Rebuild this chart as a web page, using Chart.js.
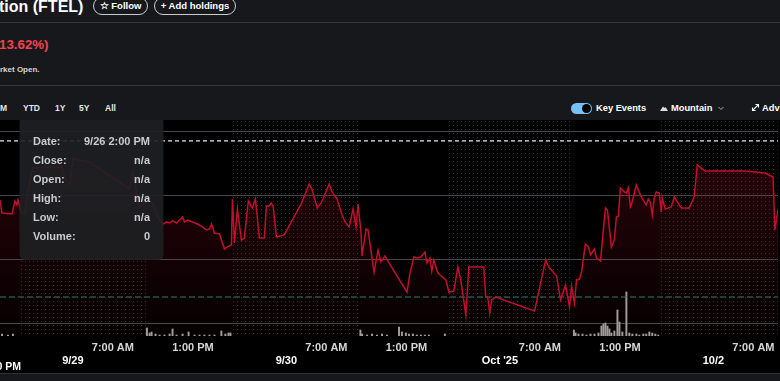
<!DOCTYPE html>
<html><head><meta charset="utf-8">
<script src="https://cdn.jsdelivr.net/npm/chart.js@4.4.1/dist/chart.umd.min.js"></script>
<style>
html,body{margin:0;padding:0;background:#16181c;width:780px;height:381px;overflow:hidden;font-family:'Liberation Sans',Arial,sans-serif;}
.abs{position:absolute;white-space:nowrap;}
.pill{top:-3px;height:18px;border:1px solid #c9ccd0;border-radius:9px;color:#fff;font-size:9.5px;font-weight:bold;line-height:16px;box-sizing:border-box;text-align:center;}
.rng{top:103px;font-size:8.5px;font-weight:bold;color:#e6e6e6;line-height:10px;}
.hr{left:0;width:780px;height:1px;background:#34373c;}
#wrap{position:absolute;left:0;top:120px;width:780px;height:253px;background:#000;}
</style></head>
<body>
<div class="abs" style="left:-1px;top:-1px;font-size:16px;font-weight:bold;color:#fff;line-height:16px;">tion (FTEL)</div>
<div class="abs pill" style="left:93px;width:55px;">☆ Follow</div>
<div class="abs pill" style="left:154px;width:82px;">+ Add holdings</div>
<div class="abs hr" style="top:22px;"></div>
<div class="abs" style="left:-1px;top:38px;font-size:13.3px;font-weight:bold;color:#f5424d;line-height:14px;">13.62%)</div>
<div class="abs" style="left:0px;top:65px;font-size:8px;font-weight:bold;color:#d6d6d6;line-height:9px;">rket Open.</div>
<div class="abs hr" style="top:85px;"></div>
<div class="abs rng" style="left:0px;">M</div>
<div class="abs rng" style="left:23px;">YTD</div>
<div class="abs rng" style="left:55px;">1Y</div>
<div class="abs rng" style="left:79px;">5Y</div>
<div class="abs rng" style="left:105px;">All</div>
<div class="abs" style="left:571px;top:103px;width:21px;height:11px;border-radius:6px;background:#78bff5"></div>
<div class="abs" style="left:582px;top:104px;width:9px;height:9px;border-radius:50%;background:#000"></div>
<div class="abs" style="left:596px;top:103px;font-size:9.3px;font-weight:bold;color:#fff;line-height:10px;">Key Events</div>
<svg class="abs" style="left:660px;top:105px" width="8" height="7"><polygon points="0,6 3,1.5 4.5,3 5.5,2 8,6" fill="#ddd"/></svg>
<div class="abs" style="left:671px;top:103px;font-size:9.3px;font-weight:bold;color:#fff;line-height:10px;">Mountain</div>
<svg class="abs" style="left:718px;top:106px" width="6" height="5"><polyline points="0.5,1 3,3.5 5.5,1" fill="none" stroke="#aaa" stroke-width="1"/></svg>
<svg class="abs" style="left:751px;top:103px" width="9" height="9"><path d="M1.5,7.5 L7.5,1.5 M4.5,1.5 L7.5,1.5 L7.5,4.5 M1.5,4.5 L1.5,7.5 L4.5,7.5" fill="none" stroke="#fff" stroke-width="1.1"/></svg>
<div class="abs" style="left:762px;top:103px;font-size:9.3px;font-weight:bold;color:#fff;line-height:10px;">Adv</div>
<div id="wrap"><canvas id="c" width="780" height="253"></canvas></div>
<div class="abs hr" style="top:373px;background:#2e3135;"></div>
<script>
// ---- data (x = session hours: day index*16 + (hour-4); 9/26 = day 0) ----
const viewStart = 10.54, viewEnd = 68.84;
const priceTimes = [10.54,10.69,11.44,11.66,11.81,11.89,12.11,12.41,12.64,13.01,13.31,14.28,15.18,15.40,15.77,16.00,17.27,20.26,20.48,20.78,21.01,21.53,21.98,22.28,22.73,23.02,23.25,23.47,23.77,24.00,24.22,24.37,24.59,24.97,25.34,25.49,25.71,26.01,26.24,26.39,26.61,26.99,27.36,27.58,27.88,27.96,28.11,28.33,28.63,28.85,29.15,29.45,29.68,29.98,30.35,30.50,30.72,30.87,31.02,31.25,31.84,32.37,33.11,33.71,33.94,34.31,34.61,35.21,35.43,35.80,36.18,36.40,36.70,37.00,37.22,37.37,37.60,37.67,37.97,38.12,38.57,38.87,39.09,39.39,39.84,41.04,41.26,41.56,41.78,42.08,42.38,42.53,42.76,42.90,43.05,43.35,43.95,44.18,44.55,44.85,45.07,45.45,45.67,46.79,46.94,47.09,47.24,47.39,47.69,50.60,51.43,51.65,52.25,52.55,52.92,53.22,53.37,53.59,53.74,53.97,54.12,54.41,54.64,54.79,55.09,55.24,55.54,55.91,56.06,56.36,56.58,56.73,56.88,57.03,57.33,57.48,57.63,57.78,57.85,58.23,58.53,58.75,58.97,59.12,59.27,59.42,59.57,59.72,59.95,60.09,60.17,60.39,60.84,61.07,61.59,62.19,62.56,62.79,63.38,64.35,66.45,67.87,68.47,68.61,68.84];
const priceValues = [4.965,4.863,4.856,4.958,4.926,4.965,4.871,4.863,5.044,5.224,5.217,5.224,5.224,5.138,5.083,5.287,5.264,5.052,5.201,5.020,4.903,4.965,4.942,4.848,4.773,4.793,4.785,4.801,4.785,4.808,4.832,4.793,4.808,4.793,4.777,4.769,4.754,4.730,4.738,4.777,4.706,4.699,4.581,4.597,4.612,4.973,4.628,4.895,4.652,4.667,4.958,4.903,4.973,4.667,4.667,4.918,4.918,4.942,4.911,4.675,4.691,4.793,4.934,5.091,5.044,4.903,4.942,5.091,5.028,4.973,4.848,4.793,4.754,4.895,4.754,4.934,4.706,4.526,4.738,4.730,4.400,4.573,4.479,4.526,4.447,4.243,4.392,4.518,4.510,4.518,4.557,4.471,4.510,4.408,4.495,4.392,4.338,4.243,4.251,4.440,4.338,4.063,4.440,4.440,4.204,4.204,4.078,4.181,4.204,4.094,4.495,4.440,4.369,4.181,4.298,4.126,4.290,4.157,4.338,4.345,4.400,4.620,4.597,4.534,4.581,4.510,4.487,4.903,4.887,4.597,4.652,4.832,4.840,5.060,5.028,5.020,5.060,4.911,4.926,5.083,5.005,4.965,4.926,4.973,4.950,4.848,4.981,5.028,5.020,4.871,4.981,4.895,4.911,4.989,4.903,4.903,4.989,5.240,5.193,5.193,5.193,5.177,5.146,4.730,4.887];
const volTimes = [10.69,11.14,11.51,21.55,21.75,21.90,22.20,22.50,22.87,23.25,23.47,23.77,24.22,24.67,25.12,25.49,25.86,26.24,26.61,27.13,27.43,27.66,27.81,37.55,37.67,38.05,38.42,38.79,39.17,39.54,40.44,40.66,40.96,41.19,41.48,41.78,42.08,42.38,42.68,43.88,53.55,53.67,53.89,54.19,54.49,54.79,55.09,55.39,55.61,55.76,55.91,56.06,56.21,56.36,56.58,56.81,56.96,57.18,57.48,57.70,57.93,58.23,58.45,58.75,58.97,59.20,59.42,59.65,59.87];
const volValues = [5,2.5,5,20,7.5,10,5,2.5,2.5,5,17.5,2.5,5,10,2.5,2.5,2.5,2.5,2.5,12.5,5,7.5,7.5,15,5,2.5,5,2.5,5,2.5,22.5,10,7.5,5,5,2.5,2.5,2.5,2.5,5,15,7.5,5,5,2.5,5,5,7.5,25,30,32.5,25,17.5,7.5,12.5,65,35,10,110,7.5,5,5,2.5,5,5,10,7.5,5,2.5];
const gridLevels = [4.0, 4.5, 5.0, 5.5];
const keyLevel = 5.429;
const prevClose = 4.204;
const dateTickTimes = [16, 32, 48, 64];
const dateLabels = ['9/29', '9/30', "Oct '25", '10/2'];
const timeTickTimes = [19, 25, 35, 41, 51, 57, 67];
const timeLabels = ['7:00 AM', '1:00 PM', '7:00 AM', '1:00 PM', '7:00 AM', '1:00 PM', '7:00 AM'];
const extStarts = [12, 28, 44, 60];
const extEnds = [21.5, 37.5, 53.5, 69.5];
const tipLabels = ['Date:', 'Close:', 'Open:', 'High:', 'Low:', 'Volume:'];
const tipValues = ['9/26 2:00 PM', 'n/a', 'n/a', 'n/a', 'n/a', '0'];
const crossLabel = '2:00 PM';

const FONT = "'Liberation Sans', Arial, sans-serif";
const pricePts = priceTimes.map((t, i) => ({x: t, y: priceValues[i]}));
const volPts = volTimes.map((t, i) => ({x: t, y: volValues[i]}));

const dotCanvas = document.createElement('canvas');
dotCanvas.width = 4; dotCanvas.height = 4;
const dctx = dotCanvas.getContext('2d');
dctx.fillStyle = 'rgba(255,255,255,0.19)';
dctx.fillRect(1, 1, 1, 1);

const shadePlugin = {
  id: 'shade',
  beforeDatasetsDraw(chart) {
    const {ctx, chartArea: a, scales: {x}} = chart;
    const pat = ctx.createPattern(dotCanvas, 'repeat');
    ctx.save();
    ctx.fillStyle = pat;
    extStarts.forEach((s, i) => {
      const x1 = Math.max(a.left, x.getPixelForValue(s));
      const x2 = Math.min(a.right, x.getPixelForValue(extEnds[i]));
      if (x2 > x1) ctx.fillRect(x1, a.top, x2 - x1, a.bottom - a.top);
    });
    ctx.restore();
  }
};

function roundRect(ctx, x, y, w, h, r) {
  ctx.beginPath();
  ctx.moveTo(x + r, y);
  ctx.lineTo(x + w - r, y); ctx.quadraticCurveTo(x + w, y, x + w, y + r);
  ctx.lineTo(x + w, y + h - r); ctx.quadraticCurveTo(x + w, y + h, x + w - r, y + h);
  ctx.lineTo(x + r, y + h); ctx.quadraticCurveTo(x, y + h, x, y + h - r);
  ctx.lineTo(x, y + r); ctx.quadraticCurveTo(x, y, x + r, y);
  ctx.closePath();
}

const tipPlugin = {
  id: 'tip',
  afterDraw(chart) {
    const ctx = chart.ctx;
    ctx.save();
    roundRect(ctx, 19.5, -3, 144, 143, 6);
    ctx.fillStyle = 'rgba(30,32,36,0.9)';
    ctx.fill();
    ctx.font = 'bold 11px ' + FONT;
    ctx.textBaseline = 'middle';
    ctx.fillStyle = '#c9cbce';
    tipLabels.forEach((l, i) => {
      const y = 22.3 + i * 19;
      ctx.textAlign = 'left';
      ctx.fillText(l, 33, y);
      ctx.textAlign = 'right';
      ctx.fillText(tipValues[i], 150, y);
    });
    ctx.font = 'bold 10.5px ' + FONT;
    ctx.fillStyle = '#ffffff';
    ctx.textAlign = 'right';
    ctx.fillText(crossLabel, 21, 247);
    ctx.restore();
  }
};

const ctx = document.getElementById('c').getContext('2d');
new Chart(ctx, {
  type: 'line',
  data: {
    datasets: [
      {
        label: 'Price', data: pricePts, order: 1,
        borderColor: '#c20f2c', borderWidth: 1.5, pointRadius: 0, tension: 0,
        fill: 'start',
        backgroundColor: (c) => {
          const a = c.chart.chartArea;
          if (!a) return 'rgba(200,16,46,0.12)';
          const g = c.chart.ctx.createLinearGradient(0, a.top, 0, a.bottom);
          g.addColorStop(0, 'rgba(200,16,46,0.24)');
          g.addColorStop(1, 'rgba(200,16,46,0.02)');
          return g;
        }
      },
      {
        label: 'Key level', data: [{x: viewStart, y: keyLevel}, {x: viewEnd, y: keyLevel}], order: 2,
        borderColor: '#e8e8e8', borderWidth: 1.3, borderDash: [4, 3], pointRadius: 0, fill: false
      },
      {
        label: 'Prev close', data: [{x: viewStart, y: prevClose}, {x: viewEnd, y: prevClose}], order: 2,
        borderColor: '#1f8570', borderWidth: 1, borderDash: [6, 3], pointRadius: 0, fill: false
      },
      {
        type: 'bar', label: 'Volume', data: volPts, yAxisID: 'y2', order: 3,
        backgroundColor: '#a0a0a0', barThickness: 1.3, grouped: false
      }
    ]
  },
  options: {
    responsive: false, devicePixelRatio: 1, animation: false,
    layout: {padding: {left: 0, right: 0, top: 0, bottom: 0}},
    plugins: {legend: {display: false}, tooltip: {enabled: false}},
    scales: {
      x: {
        type: 'linear', min: viewStart, max: viewEnd, offset: false,
        grid: {display: false, drawTicks: false, offset: false}, border: {display: false},
        afterBuildTicks: (s) => { s.ticks = dateTickTimes.concat(timeTickTimes).sort((a, b) => a - b).map(v => ({value: v})); },
        ticks: {
          autoSkip: false, maxRotation: 0, minRotation: 0, padding: 5.5,
          font: {family: FONT, size: 11, weight: 'bold', lineHeight: '13px'},
          color: (c) => dateTickTimes.includes(c.tick && c.tick.value) ? '#ffffff' : '#d6d6d6',
          callback: (v) => {
            const di = dateTickTimes.indexOf(v);
            if (di >= 0) return ['', dateLabels[di]];
            const ti = timeTickTimes.indexOf(v);
            return ti >= 0 ? timeLabels[ti] : '';
          }
        }
      },
      y: {
        min: 3.898, max: 5.593,
        afterBuildTicks: (s) => { s.ticks = gridLevels.map(v => ({value: v})); },
        ticks: {display: false},
        grid: {color: '#45484d', lineWidth: 1, drawTicks: false},
        border: {display: false}
      },
      y2: {display: false, min: 0, max: 540}
    }
  },
  plugins: [shadePlugin, tipPlugin]
});
</script>
</body></html>
